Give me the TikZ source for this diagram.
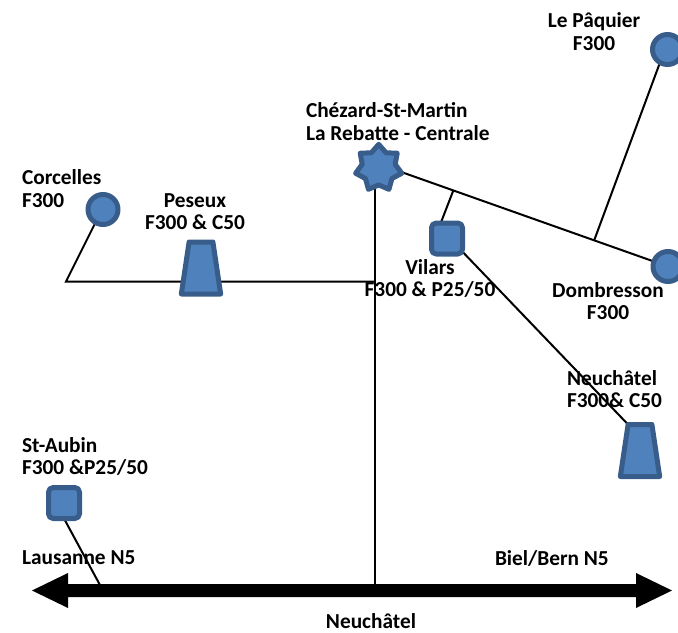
\documentclass[tikz,border=0pt]{standalone}
\usepackage{fontspec}
\setmainfont{Carlito}
\usetikzlibrary{shapes.geometric,backgrounds}
\definecolor{sitefill}{HTML}{4F81BD}
\definecolor{sitedraw}{HTML}{385D8A}
\tikzset{
  site/.style={draw=sitedraw,fill=sitefill,line width=3.75pt,line join=round,inner sep=0pt,outer sep=0pt},
  roundsite/.style={site,circle,minimum size=22.5pt},
  squaresite/.style={site,rectangle,minimum size=23.25pt,rounded corners=3.5pt},
  hubsite/.style={site,star,star points=7,star point ratio=1.4,minimum size=35.5pt},
  trapsite/.style={site,trapezium,inner xsep=2pt,inner ysep=2pt,trapezium stretches=true,minimum height=39pt,minimum width=29.5pt,trapezium left angle=72,trapezium right angle=72},
  lab/.style={font=\bfseries\fontsize{16pt}{17pt}\selectfont,inner sep=0pt,outer sep=0pt},
  leftlab/.style={lab,align=left,anchor=west},
  midlab/.style={lab,align=center,anchor=center},
  link/.style={draw=black,line width=1.5pt}
}
\begin{document}
\begin{tikzpicture}[x=0.75pt,y=-0.75pt]
\clip (0,0) rectangle (678,632);
\useasboundingbox (0,0) rectangle (678,632);
% sites
\node[roundsite] (paq) at (667.5,49.5) {};
\node[roundsite] (dom) at (668,266.5) {};
\node[roundsite] (cor) at (103,209.5) {};
\node[squaresite] (vil) at (447,238.5) {};
\node[squaresite] (aub) at (64,503) {};
\node[hubsite] (hub) at (378.7,168) {};
\node[trapsite] (pes) at (201,268) {};
\node[trapsite] (neu) at (640,450.5) {};
% free ends
\coordinate (jvil) at (453.5,190);
\coordinate (jpaq) at (594.3,240);
\coordinate (corner) at (66,281.5);
\coordinate (jmid) at (375,281.5);
\coordinate (bot) at (375,586);
\coordinate (baub) at (100.5,586);
% road arrow
\fill[black] (32,590.5) -- (68,573) -- (68,584) -- (636,584) -- (636,573) -- (672,590.5) -- (636,608) -- (636,597) -- (68,597) -- (68,608) -- cycle;
% connectors
\begin{scope}[on background layer]
\draw[link] ([yshift=3pt]hub.center) -- (dom);
\draw[link] (jvil) -- ([xshift=-4.7pt]vil.north);
\draw[link] (paq.240) -- (jpaq);
\draw[link] (cor.240) -- (corner) -- (jmid);
\draw[link] (hub.center -| bot) -- (bot);
\draw[link] ([yshift=1.7pt]vil.south east) -- (neu.top left corner);
\draw[link] (aub.south) -- (baub);
\end{scope}
% labels
\node[midlab] (lpaq) at (594,31.5) {Le Pâquier\\F300};
\node[leftlab] (lhub) at (306,121.5) {Chézard-St-Martin\\La Rebatte - Centrale};
\node[leftlab] (lcor) at (22,188.5) {Corcelles\\F300};
\node[midlab] (lpes) at (195,211.5) {Peseux\\F300 \& C50};
\node[midlab] (lvil) at (430,278.5) {Vilars\\F300 \& P25/50};
\node[midlab] (ldom) at (608,301) {Dombresson\\F300};
\node[leftlab] (lneu) at (567,389) {Neuchâtel\\F300\& C50};
\node[leftlab] (laub) at (22,456.5) {St-Aubin\\F300 \&P25/50};
\node[leftlab] (llau) at (22,558) {Lausanne N5};
\node[leftlab] (lbie) at (495,558) {Biel/Bern N5};
\node[lab,anchor=base] (lmid) at (371,628.5) {Neuchâtel};
\end{tikzpicture}
\end{document}
